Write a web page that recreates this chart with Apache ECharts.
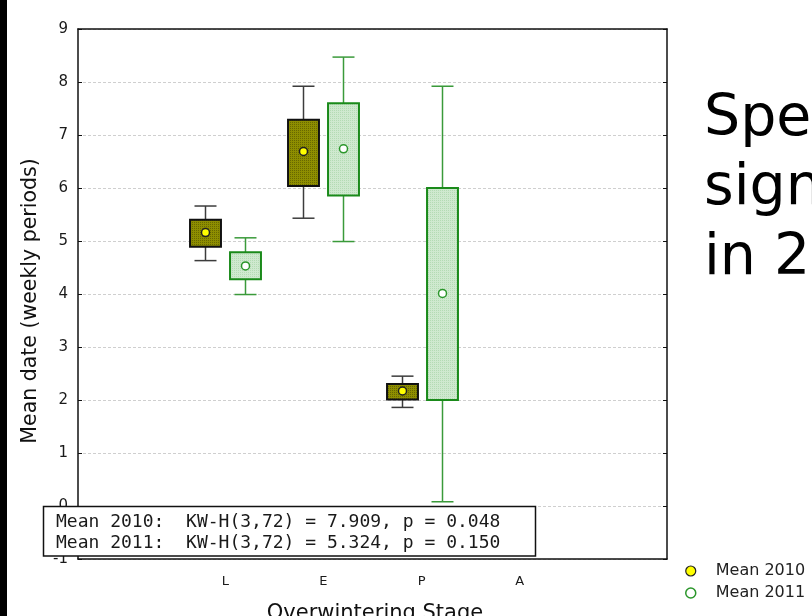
<!DOCTYPE html>
<html>
<head>
<meta charset="utf-8">
<style>html,body{margin:0;padding:0;background:#fff}#c{width:812px;height:616px}</style>
<script src="https://cdn.jsdelivr.net/npm/echarts@6/dist/echarts.min.js"></script>
</head>
<body>
<div id="c"></div>
<script>
// ---- data ----
const categories = ['', 'L', 'E', 'P', 'A', ''];
const stages = ['L', 'E', 'P'];
const yTicks = [-1, 0, 1, 2, 3, 4, 5, 6, 7, 8, 9];

const min2010  = [4.63, 5.43, 1.86];
const q1_2010  = [4.89, 6.04, 2.01];
const q3_2010  = [5.40, 7.29, 2.30];
const max2010  = [5.66, 7.92, 2.45];
const mean2010 = [5.16, 6.69, 2.17];

const min2011  = [3.99, 4.99, 0.08];
const q1_2011  = [4.28, 5.86, 2.00];
const q3_2011  = [4.79, 7.60, 6.00];
const max2011  = [5.06, 8.47, 7.92];
const mean2011 = [4.53, 6.74, 4.01];

const statLines = [
  'Mean 2010:  KW-H(3,72) = 7.909, p = 0.048',
  'Mean 2011:  KW-H(3,72) = 5.324, p = 0.150'
];
const sideText = ['Spe', 'sign', 'in 2'];
const yName = 'Mean date (weekly periods)';
const xName = 'Overwintering Stage';

// ---- patterns ----
function makePattern(base, dot) {
  const cv = document.createElement('canvas');
  cv.width = 4; cv.height = 4;
  const ctx = cv.getContext('2d');
  ctx.fillStyle = base; ctx.fillRect(0, 0, 4, 4);
  ctx.fillStyle = dot;
  ctx.fillRect(0, 0, 1, 1); ctx.fillRect(2, 2, 1, 1);
  ctx.fillRect(2, 0, 1, 1); ctx.fillRect(0, 2, 1, 1);
  return { image: cv, repeat: 'repeat' };
}

const st2010 = {
  fill: makePattern('#8e8e00', '#686800'),
  border: '#111', whisker: '#3c3c3c',
  dot: '#ffff00', dotBorder: '#222'
};
const st2011 = {
  fill: makePattern('#cfe9cf', '#b4dbb4'),
  border: '#1a8a1a', whisker: '#3a9a3a',
  dot: '#ffffff', dotBorder: '#2a962a'
};

function build(mins, q1s, q3s, maxs, means) {
  return stages.map((s, i) => [categories.indexOf(s), mins[i], q1s[i], q3s[i], maxs[i], means[i]]);
}

function makeRenderer(off, st) {
  return function (params, api) {
    const x = api.value(0);
    const band = api.size([1, 0])[0];
    const lo = api.coord([x, api.value(1)]);
    const q1 = api.coord([x, api.value(2)]);
    const q3 = api.coord([x, api.value(3)]);
    const hi = api.coord([x, api.value(4)]);
    const mn = api.coord([x, api.value(5)]);
    const cx = Math.round(lo[0] + off * band) + 0.5;
    const bw = 0.315 * band, cw = 0.224 * band;
    const ws = { stroke: st.whisker, lineWidth: 1.5 };
    return {
      type: 'group',
      children: [
        { type: 'line', shape: { x1: cx, y1: hi[1], x2: cx, y2: q3[1] }, style: ws },
        { type: 'line', shape: { x1: cx, y1: q1[1], x2: cx, y2: lo[1] }, style: ws },
        { type: 'line', shape: { x1: cx - cw / 2, y1: hi[1], x2: cx + cw / 2, y2: hi[1] }, style: ws },
        { type: 'line', shape: { x1: cx - cw / 2, y1: lo[1], x2: cx + cw / 2, y2: lo[1] }, style: ws },
        { type: 'rect', shape: { x: cx - bw / 2, y: q3[1], width: bw, height: q1[1] - q3[1] },
          style: { fill: st.fill, stroke: st.border, lineWidth: 2 } },
        { type: 'circle', shape: { cx: cx, cy: mn[1], r: 4 },
          style: { fill: st.dot, stroke: st.dotBorder, lineWidth: 1.5 } }
      ]
    };
  };
}

const FONT = 'DejaVu Sans';
const chart = echarts.init(document.getElementById('c'), null, { renderer: 'canvas' });

const option = {
  backgroundColor: '#ffffff',
  animation: false,
  grid: { left: 78, right: 145, top: 29, bottom: 57, containLabel: false, outerBoundsMode: 'none' },
  legend: {
    orient: 'vertical',
    left: 680, top: 558,
    itemWidth: 10, itemHeight: 10, itemGap: 6,
    textStyle: { fontFamily: FONT, fontSize: 16, color: '#222', padding: [0, 0, 0, 15] },
    data: [
      { name: 'Mean 2010', icon: 'circle', itemStyle: { color: '#ffff00', borderColor: '#222', borderWidth: 1.2 } },
      { name: 'Mean 2011', icon: 'circle', itemStyle: { color: '#ffffff', borderColor: '#2a962a', borderWidth: 1.5 } }
    ]
  },
  xAxis: [
    {
      type: 'category', data: categories, position: 'bottom',
      axisLine: { onZero: false, lineStyle: { color: '#111', width: 1.5 } },
      axisTick: { inside: true, length: 5, alignWithLabel: true, interval: 0, lineStyle: { color: '#111' } },
      axisLabel: { interval: 0, margin: 16, fontFamily: FONT, fontSize: 13, color: '#1a1a1a' },
      splitLine: { show: false }
    },
    {
      type: 'category', data: categories, position: 'top',
      axisLine: { onZero: false, lineStyle: { color: '#111', width: 1.5 } },
      axisTick: { inside: true, length: 5, alignWithLabel: true, interval: 0, lineStyle: { color: '#111' } },
      axisLabel: { show: false },
      splitLine: { show: false }
    }
  ],
  yAxis: [
    {
      type: 'value', min: yTicks[0], max: yTicks[yTicks.length - 1], interval: 1, position: 'left',
      axisLine: { show: true, onZero: false, lineStyle: { color: '#111', width: 1.5 } },
      axisTick: { show: true, inside: true, length: 4, lineStyle: { color: '#111' } },
      axisLabel: { margin: 10, fontFamily: FONT, fontSize: 15, color: '#1a1a1a' },
      splitLine: { show: true, lineStyle: { color: '#cfcfcf', type: [3, 2], width: 1 } }
    },
    {
      type: 'value', min: yTicks[0], max: yTicks[yTicks.length - 1], interval: 1, position: 'right',
      axisLine: { show: true, onZero: false, lineStyle: { color: '#111', width: 1.5 } },
      axisTick: { show: true, inside: true, length: 4, lineStyle: { color: '#111' } },
      axisLabel: { show: false },
      splitLine: { show: false }
    }
  ],
  series: [
    {
      name: 'Mean 2010', type: 'custom', xAxisIndex: 0, yAxisIndex: 0,
      renderItem: makeRenderer(-0.2035, st2010),
      encode: { x: 0, y: [1, 2, 3, 4, 5] },
      itemStyle: { color: '#ffff00' },
      data: build(min2010, q1_2010, q3_2010, max2010, mean2010)
    },
    {
      name: 'Mean 2011', type: 'custom', xAxisIndex: 0, yAxisIndex: 0,
      renderItem: makeRenderer(0.2035, st2011),
      encode: { x: 0, y: [1, 2, 3, 4, 5] },
      itemStyle: { color: '#ffffff' },
      data: build(min2011, q1_2011, q3_2011, max2011, mean2011)
    }
  ],
  graphic: [
    { type: 'rect', left: 0, top: 0, shape: { width: 7, height: 616 }, style: { fill: '#000' }, z: 100 },
    { type: 'text', x: 31, y: 301, rotation: Math.PI / 2, z: 101,
      style: { text: yName, font: '20.5px "DejaVu Sans"', fill: '#111', verticalAlign: 'middle', align: 'center' } },
    { type: 'text', x: 375, y: 614, z: 101,
      style: { text: xName, font: '21px "DejaVu Sans"', fill: '#111', verticalAlign: 'middle', align: 'center' } },
    { type: 'rect', shape: { x: 43.5, y: 506.5, width: 492, height: 49.5 },
      style: { fill: '#fff', stroke: '#111', lineWidth: 1.5 }, z: 100 },
    { type: 'text', x: 56, y: 522, z: 101,
      style: { text: statLines[0], font: '18px "DejaVu Sans Mono"', fill: '#1a1a1a', verticalAlign: 'middle', align: 'left' } },
    { type: 'text', x: 56, y: 543, z: 101,
      style: { text: statLines[1], font: '18px "DejaVu Sans Mono"', fill: '#1a1a1a', verticalAlign: 'middle', align: 'left' } },
    { type: 'text', x: 704, y: 120, z: 101,
      style: { text: sideText[0], font: '57px "DejaVu Sans"', fill: '#000', verticalAlign: 'middle', align: 'left' } },
    { type: 'text', x: 704, y: 189, z: 101,
      style: { text: sideText[1], font: '57px "DejaVu Sans"', fill: '#000', verticalAlign: 'middle', align: 'left' } },
    { type: 'text', x: 704, y: 259, z: 101,
      style: { text: sideText[2], font: '57px "DejaVu Sans"', fill: '#000', verticalAlign: 'middle', align: 'left' } }
  ]
};
chart.setOption(option);
</script>
</body>
</html>
